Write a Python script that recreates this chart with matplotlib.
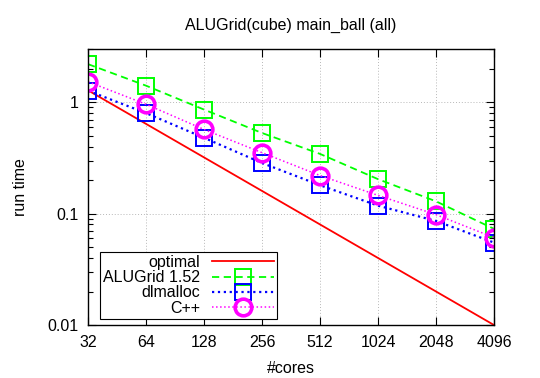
import numpy as np
import matplotlib
matplotlib.use('Agg')
import matplotlib.pyplot as plt
from matplotlib.ticker import FixedLocator, FixedFormatter, NullFormatter, LogLocator

plt.rcParams['font.family'] = ['Liberation Sans', 'DejaVu Sans']

# data
cores = [32, 64, 128, 256, 512, 1024, 2048, 4096]
optimal = [1.28, 0.64, 0.32, 0.16, 0.08, 0.04, 0.02, 0.01]
alugrid = [2.2, 1.41, 0.86, 0.53, 0.344, 0.204, 0.129, 0.073]
dlmalloc = [1.27, 0.80, 0.48, 0.285, 0.18, 0.118, 0.086, 0.055]
cpp = [1.53, 0.96, 0.57, 0.353, 0.22, 0.146, 0.098, 0.061]
tick_labels = ['32', '64', '128', '256', '512', '1024', '2048', '4096']

fs = 11.5

fig = plt.figure(figsize=(5.4, 3.78), dpi=100)
ax = fig.add_axes([0.163, 0.140, 0.752, 0.730])

ax.plot(cores, optimal, '-', color='#ff0000', lw=1.3, label='optimal')
ax.plot(cores, alugrid, '--', color='#00ff00', lw=1.3, marker='s', ms=12,
        mfc='none', mew=1.4, dashes=(4, 2.5), label='ALUGrid 1.52')
ax.plot(cores, dlmalloc, ':', color='#0000ff', lw=1.6, marker='s', ms=12,
        mfc='none', mew=1.4, label='dlmalloc')
ax.plot(cores, cpp, ':', color='#ff00ff', lw=1.1, marker='o', ms=12,
        mfc='none', mew=2.6, label='C++')

ax.set_xscale('log', base=2)
ax.set_yscale('log')
ax.set_xlim(32, 4096)
ax.set_ylim(0.01, 3)

ax.xaxis.set_major_locator(FixedLocator(cores))
ax.xaxis.set_major_formatter(FixedFormatter(tick_labels))
ax.xaxis.set_minor_locator(FixedLocator([]))
ax.yaxis.set_major_locator(FixedLocator([0.01, 0.1, 1]))
ax.yaxis.set_major_formatter(FixedFormatter(['0.01', '0.1', '1']))
ax.yaxis.set_minor_locator(LogLocator(base=10, subs=np.arange(2, 10)))
ax.yaxis.set_minor_formatter(NullFormatter())

ax.tick_params(which='both', direction='in', top=True, right=True,
               labelsize=fs, pad=7)
ax.tick_params(which='major', length=6, width=0.8)
ax.tick_params(which='minor', length=3.5, width=0.8)
for s in ax.spines.values():
    s.set_linewidth(1.0)

ax.grid(True, which='major', color='#b8b8b8', ls=(0, (1, 2)), lw=0.7)

ax.set_title('ALUGrid(cube) main_ball (all)', fontsize=fs, pad=14)
ax.set_xlabel('#cores', fontsize=fs, labelpad=8)
ax.set_ylabel('run time', fontsize=fs, labelpad=14)

leg = ax.legend(loc='lower left', bbox_to_anchor=(0.03, 0.022),
                markerfirst=False, fontsize=fs, handlelength=3.9,
                fancybox=False, framealpha=1, edgecolor='black',
                borderaxespad=0, labelspacing=0.02, handletextpad=0.7,
                borderpad=0.2)
leg.get_frame().set_linewidth(0.8)

fig.savefig('out.png', dpi=100)
